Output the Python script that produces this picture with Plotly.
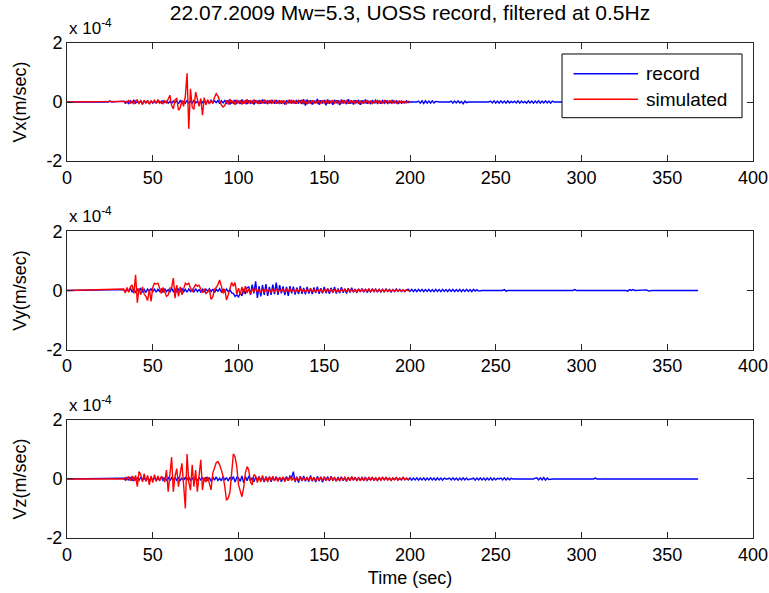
import plotly.graph_objects as go

# ---------------- data (velocity in units of 1e-6 m/s, 1 s sampling) ----------------
TITLE = "22.07.2009 Mw=5.3, UOSS record, filtered at 0.5Hz"
PANEL_LABELS = ["Vx(m/sec)", "Vy(m/sec)", "Vz(m/sec)"]
X_TICKS = [0, 50, 100, 150, 200, 250, 300, 350, 400]
Y_TICKS = [-2, 0, 2]
Y_TICK_TEXT = ["-2", "0", "2"]
SERIES_NAMES = ["record", "simulated"]

# record: t = 0, then 33..368 s ; simulated: t = 0, then 33..200 s
rec_start, rec_end = 33, 368
sim_start, sim_end = 33, 200

vx_rec_pre_t = [0, 24, 25, 26]
vx_rec_pre_v = [0, 0, 4, 0]
vx_rec = [
    3, -4, 2, -5, 4, -3, 6, -4, 2, -3,
    5, -6, 3, -2, 4, -5, 3, -4, 2, -3,
    1, 2, -3, 4, -2, 3, -4, 2, -5, 3,
    -2, 4, -6, 5, -3, 2, -4, 6, -5, 3,
    -4, 5, -3, 2, -6, 4, -2, 5, -4, 3,
    -5, 6, -3, 4, -2, 5, -6, 4, -3, 5,
    -4, 6, -8, 5, -4, 7, -5, 3, -6, 8,
    -5, 4, -7, 6, -4, 5, -8, 6, -3, 5,
    -6, 8, -5, 4, -7, 6, -4, 5, -6, 7,
    -5, 4, -6, 5, -8, 6, -4, 7, -5, 4,
    -6, 5, -3, 6, -7, 9, -12, 8, -5, 6,
    -8, 5, -4, 10, -9, 6, -5, 7, -11, 8,
    -6, 5, -9, 7, -4, 6, -10, 8, -5, 4,
    -7, 9, -6, 5, -8, 6, -4, 7, -9, 6,
    -5, 8, -6, 4, -7, 5, -3, 6, -5, 4,
    -6, 5, -4, 6, -5, 3, -4, 5, -3, 4,
    -5, 3, -4, 2, -3, 4, -2, 1, 0, 0,
    0, 0, 3, -4, 4, -5, 4, -4, 3, -4,
    4, -3, 2, 0, 0, 0, 0, 0, 0, 0,
    0, 3, -4, 3, -3, 4, -3, 2, -6, 3,
    -2, 0, 0, 0, 0, 0, 0, 0, 0, 0,
    0, 0, 0, 0, 3, -3, 4, -4, 3, -4,
    4, -3, 3, -4, 4, -3, 2, -2, 3, -3,
    4, -4, 3, -3, 2, -4, 4, -3, 3, -4,
    3, -3, 4, -4, 3, -3, 4, -3, 3, -4,
    3, 0, 0, 0, 0, 0, 0, 0, 0, 0,
    0, 0, 3, -3, 3, -2, 0, 0, 0, 0,
    0, 0, 0, 0, 0, 0, 2, -3, 3, -2,
    0, 0, 0, 0, 0, 0, 0, 0, 0, 0,
    0, 0, 0, 0, 3, -3, 3, -3, 2, 0,
    0, 0, 0, 0, 0, 0, 0, 0, 0, 0,
    0, 0, 0, 0, 0, 0, 0, 0, 0, 0,
    0, 0, 0, 0, 0, 0, 0, 0, 0, 0,
    0, 0, 0, 0, 0, 0,
]
vx_sim = [
    0, 2, -3, 5, -4, 3, -6, 4, 7, -5,
    3, -8, 6, -4, 5, -7, 3, -2, 6, -5,
    8, -4, 3, -6, 4, -3, 10, 23, -12, -23,
    8, 12, -28, -20, 6, -15, 20, 97, -91, 45,
    -18, -25, 34, 5, -15, 12, -45, 15, -10, 8,
    -6, 4, -5, 15, 28, 20, 4, -10, -17, -12,
    6, -8, 10, -6, 5, -9, 7, -4, 6, -8,
    5, -7, 9, -5, 4, -6, 8, -4, 5, -7,
    6, -5, 8, -6, 4, -5, 7, -3, 5, -6,
    4, -5, 6, -4, 3, -6, 5, -4, 7, -5,
    4, -6, 5, -3, 6, -5, 4, -7, 5, -4,
    6, -5, 3, -4, 6, -5, 4, -3, 5, -6,
    4, -3, 5, -4, 6, -5, 3, -4, 5, -3,
    4, -6, 5, -3, 4, -5, 6, -4, 3, -5,
    4, -3, 5, -4, 3, -5, 4, -3, 5, -4,
    3, -4, 5, -3, 4, -3, 5, -4, 3, -4,
    3, -3, 4, -3, 2, -3, 2, 0,
]

vy_rec = [
    3, -5, 6, -4, 8, -6, 5, -8, 4, -3,
    6, -5, 4, -7, 5, -3, 6, -4, 5, -6,
    4, -3, 5, -7, 6, -4, 3, -5, 7, -4,
    5, -6, 4, -3, 6, -5, 4, -6, 5, -3,
    4, -5, 6, -4, 3, -5, 4, -6, 5, -3,
    6, -4, 5, -7, 4, -3, 6, -5, 4, -6,
    5, -4, 3, -8, -10, -20, -15, -22, -8, -18,
    5, -12, 10, 12, -15, 20, -10, 31, -25, 15,
    -20, 18, -15, 22, -18, 12, -15, 20, -12, 27,
    -15, 18, -10, 14, -16, 12, -18, 15, -10, 13,
    -14, 10, -12, 15, -11, 9, -13, 12, -10, 8,
    -12, 10, -9, 13, -11, 8, -10, 12, -9, 7,
    -11, 9, -8, 12, -10, 7, -9, 11, -8, 6,
    -10, 8, -7, 9, -6, 5, -8, 6, -5, 7,
    -6, 5, -7, 4, -5, 6, -4, 5, -6, 4,
    -5, 4, -6, 5, -3, 4, -5, 3, -4, 5,
    -3, 4, -3, 2, -4, 3, 4, -3, 4, -4,
    3, -4, 4, -3, 4, -4, 3, -3, 4, -4,
    3, -4, 4, -3, 3, -4, 4, -3, 3, -4,
    4, -3, 4, -4, 3, -3, 4, -4, 3, -3,
    4, -3, 3, -4, 4, -2, 3, -2, 0, 0,
    0, 0, 0, 0, 0, 0, 0, 0, 0, 0,
    0, 0, 3, -2, 0, 0, 0, 0, 0, 0,
    0, 0, 0, 0, 0, 0, 0, 0, -2, 0,
    0, 0, 0, 0, 0, 0, 0, 0, 0, 0,
    0, 0, 0, 0, 0, 0, 0, 0, 0, 0,
    0, 0, 0, 3, 0, 0, 0, 0, 2, 0,
    0, 0, 0, 0, 0, 0, 0, 0, 0, 0,
    0, 0, 0, 0, 0, 0, 0, 0, 0, 0,
    0, 0, 0, 0, -2, 3, 0, 3, 0, 0,
    0, 0, 0, 0, 0, 2, -2, 0, 0, 0,
    0, 0, 0, 0, 0, 0, 0, 0, 0, 0,
    0, 0, 0, 0, 0, 0, 0, 0, 0, 0,
    0, 0, 0, 0, 0, 0,
]
vy_sim = [
    5, -8, 10, -6, 12, 19, -10, 53, -41, 8,
    -15, 12, -12, -20, -34, 5, -37, 10, 25, 22,
    25, 8, -10, 10, -8, -20, -15, 8, 10, 42,
    -26, 18, -20, 12, -15, 5, 25, 20, 25, 8,
    -5, 10, 20, 15, 18, 5, -8, 6, -10, -5,
    4, -30, -22, 5, 10, 20, 36, 15, -10, 5,
    -32, -15, 10, 27, 15, 27, -13, 8, -15, 12,
    -10, 15, -8, 5, -12, 6, -5, 8, -6, 4,
    -7, 5, -4, 6, -5, 3, -6, 5, -4, 6,
    -5, 4, -3, 5, -6, 4, -3, 5, -4, 3,
    -5, 4, -3, 6, -4, 3, -5, 4, -3, 5,
    -4, 3, -5, 4, -3, 4, -5, 3, -4, 5,
    -3, 4, -5, 3, -4, 3, -5, 4, -3, 4,
    -3, 5, -4, 3, -4, 3, -5, 4, -3, 4,
    -3, 4, -3, 5, -4, 3, -3, 4, -3, 3,
    -4, 3, -3, 4, -3, 2, -3, 3, -2, 3,
    -3, 2, -3, 2, -2, 2, -1, 0,
]

vz_rec = [
    3, -4, 5, -3, 4, -6, 5, -3, 4, -5,
    6, -4, 3, -5, 4, -6, 5, -3, 4, -5,
    3, -4, 6, -5, 3, -4, 5, -6, 4, -3,
    5, -4, 6, -5, 3, -4, 5, -3, 6, -4,
    3, -5, 4, -6, 5, -3, 4, -5, 6, -4,
    5, -8, 6, -4, 7, -5, 3, -6, 8, -4,
    5, -7, 6, -3, 8, -10, 6, 3, -8, 10,
    -12, 8, -6, 10, -7, 5, -9, 6, -4, 8,
    -6, 5, -10, 8, -5, 7, -9, 6, -5, 8,
    -7, 5, -9, 6, -4, 8, -6, 10, 5, 25,
    -10, 8, -12, 9, -7, 10, -8, 6, -9, 12,
    -8, 6, -10, 9, -7, 8, -11, 6, -5, 8,
    -7, 9, -6, 5, -8, 6, -4, 7, -6, 5,
    -8, 6, -5, 7, -4, 6, -5, 4, -6, 5,
    -4, 6, -5, 3, -4, 5, -3, 4, -5, 3,
    -4, 5, -3, 4, -2, 3, -4, 3, -2, 4,
    -3, 2, -3, 4, -2, 3, -3, 4, -4, 3,
    -3, 4, -4, 3, -3, 4, -4, 3, -3, 4,
    -3, 3, -4, 4, -3, 3, -4, 3, 0, 0,
    3, -3, 4, -3, 3, -4, 3, -3, 4, -3,
    3, -3, 0, 0, 3, -4, 3, -3, 4, -3,
    3, -4, 3, -3, 4, -4, 3, -3, 2, 0,
    3, -3, 4, -3, 3, -3, 2, 0, 0, 0,
    0, 0, 0, 0, 0, 0, 0, 0, 0, 0,
    3, 4, -3, 4, -3, 5, -4, 3, -2, 0,
    0, 0, 0, 0, 0, 0, 0, 0, 0, 0,
    0, 0, 0, 0, 0, 0, 0, 0, 0, 0,
    0, 0, 0, 0, 0, 3, 0, 0, 0, 0,
    0, 0, 0, -2, 0, 0, 0, 0, 0, 0,
    0, 0, 0, 0, 0, 0, 0, 0, 0, 0,
    0, 0, 0, 0, 0, 0, 0, 0, 0, 0,
    0, 0, 0, 0, 0, 0, 0, 0, 0, 0,
    0, 0, 0, 0, 0, 0, 0, 0, 0, 0,
    0, 0, 0, 0, 0, 0,
]
vz_sim = [
    0, 5, -4, 8, -6, 10, -8, 12, -26, 25,
    15, -10, 18, -8, 12, -20, 10, -12, 15, -8,
    10, -6, 8, 5, -10, 30, -43, 15, 74, -43,
    10, 35, -26, 20, 53, -20, -100, 85, -10, -38,
    48, -26, 30, -43, 20, 65, -37, 5, -10, 8,
    -15, -37, 20, 42, 55, 59, 48, 30, 10, -26,
    -72, -65, -45, 20, 85, 75, 42, -20, -45, -60,
    -30, 20, 42, 30, -10, -20, 15, 10, -12, 8,
    -10, 12, -8, 6, -10, 8, -5, 9, -7, 5,
    -8, 6, -4, 7, -9, 5, -6, 8, -5, 4,
    -7, 6, -5, 8, -6, 4, -5, 7, -6, 5,
    -4, 6, -7, 5, -4, 6, -5, 8, -6, 4,
    -5, 7, -4, 5, -6, 4, -7, 5, -3, 6,
    -5, 4, -6, 8, -4, 5, -7, 6, -4, 5,
    -6, 4, -5, 7, -3, 5, -6, 4, -5, 6,
    -4, 5, -3, 6, -4, 3, -5, 4, -3, 5,
    -4, 3, -2, 6, -3, 2, -1, 0,
]

# ---------------- build ----------------
rec_t = list(range(rec_start, rec_end + 1))
sim_t = list(range(sim_start, sim_end + 1))
SCALE = 100.0  # 1e-6 -> 1e-4 (axis shown in units of 10^-4)

records = [
    (vx_rec_pre_t + rec_t, vx_rec_pre_v + vx_rec),
    ([0] + rec_t, [0] + vy_rec),
    ([0] + rec_t, [0] + vz_rec),
]
sims = [
    ([0] + sim_t, [0] + vx_sim),
    ([0] + sim_t, [0] + vy_sim),
    ([0] + sim_t, [0] + vz_sim),
]

FONT = "Liberation Sans, Arial, sans-serif"
FRAME = "#262626"
BLUE = "#0000FF"
RED = "#FF0000"

fig = go.Figure()
for i in range(3):
    ax = "" if i == 0 else str(i + 1)
    t, v = records[i]
    fig.add_trace(go.Scatter(x=t, y=[a / SCALE for a in v], mode="lines",
                             line=dict(color=BLUE, width=1.4), name=SERIES_NAMES[0],
                             showlegend=False, xaxis="x" + ax, yaxis="y" + ax))
    t, v = sims[i]
    fig.add_trace(go.Scatter(x=t, y=[a / SCALE for a in v], mode="lines",
                             line=dict(color=RED, width=1.4), name=SERIES_NAMES[1],
                             showlegend=False, xaxis="x" + ax, yaxis="y" + ax))

domains = [[0.7616, 1.0], [0.3808, 0.6192], [0.0, 0.2384]]
layout = dict(
    width=769, height=593,
    margin=dict(l=67, r=16, t=43, b=55, autoexpand=False),
    paper_bgcolor="white", plot_bgcolor="white",
    font=dict(family=FONT, size=18, color="black"),
    showlegend=False,
    title=dict(text=TITLE, x=0.5, xref="paper", y=0.979, yanchor="middle",
               font=dict(size=21)),
)
for i in range(3):
    sfx = "" if i == 0 else str(i + 1)
    layout["xaxis" + sfx] = dict(
        domain=[0, 1], anchor="y" + sfx, range=[0, 400],
        tickvals=X_TICKS, ticktext=[str(x) for x in X_TICKS],
        ticks="inside", ticklen=6, tickcolor=FRAME, tickwidth=1,
        showline=True, linecolor=FRAME, linewidth=1, mirror="ticks",
        showgrid=False, zeroline=False, ticklabelstandoff=0, automargin=False,
        tickfont=dict(size=18),
    )
    layout["yaxis" + sfx] = dict(
        domain=domains[i], anchor="x" + sfx, range=[-2, 2],
        tickvals=Y_TICKS, ticktext=Y_TICK_TEXT,
        ticks="inside", ticklen=6, tickcolor=FRAME, tickwidth=1,
        showline=True, linecolor=FRAME, linewidth=1, mirror="ticks",
        showgrid=False, zeroline=False, automargin=False,
        tickfont=dict(size=18),
        title=dict(text=PANEL_LABELS[i], standoff=15, font=dict(size=18)),
    )
layout["xaxis3"]["title"] = dict(text="Time (sec)", standoff=7, font=dict(size=18))

annotations = []
for i in range(3):
    annotations.append(dict(
        text="x 10<sup>-4</sup>", xref="paper", yref="paper",
        x=0.0, y=domains[i][1], xanchor="left", yanchor="bottom",
        yshift=3, showarrow=False, font=dict(size=17)))

# legend box (drawn on top of the first panel)
lx0, lx1, ly0, ly1 = 0.7216, 0.9840, 0.8491, 0.9778
shapes = [dict(type="rect", xref="paper", yref="paper", x0=lx0, x1=lx1, y0=ly0, y1=ly1,
               fillcolor="white", line=dict(color="black", width=1), layer="above")]
legend_rows = [(0.9380, BLUE, SERIES_NAMES[0]), (0.8863, RED, SERIES_NAMES[1])]
for y, col, name in legend_rows:
    shapes.append(dict(type="line", xref="paper", yref="paper", x0=0.7385, x1=0.8324,
                       y0=y, y1=y, line=dict(color=col, width=1.4), layer="above"))
    annotations.append(dict(text=name, xref="paper", yref="paper", x=0.8405, y=y,
                            xanchor="left", yanchor="middle", showarrow=False,
                            font=dict(size=19)))
layout["shapes"] = shapes
layout["annotations"] = annotations

fig.update_layout(**layout)
fig.write_html("out.html", config={"displayModeBar": False},
               post_script="document.body.style.margin='0';document.body.style.overflow='hidden';")
